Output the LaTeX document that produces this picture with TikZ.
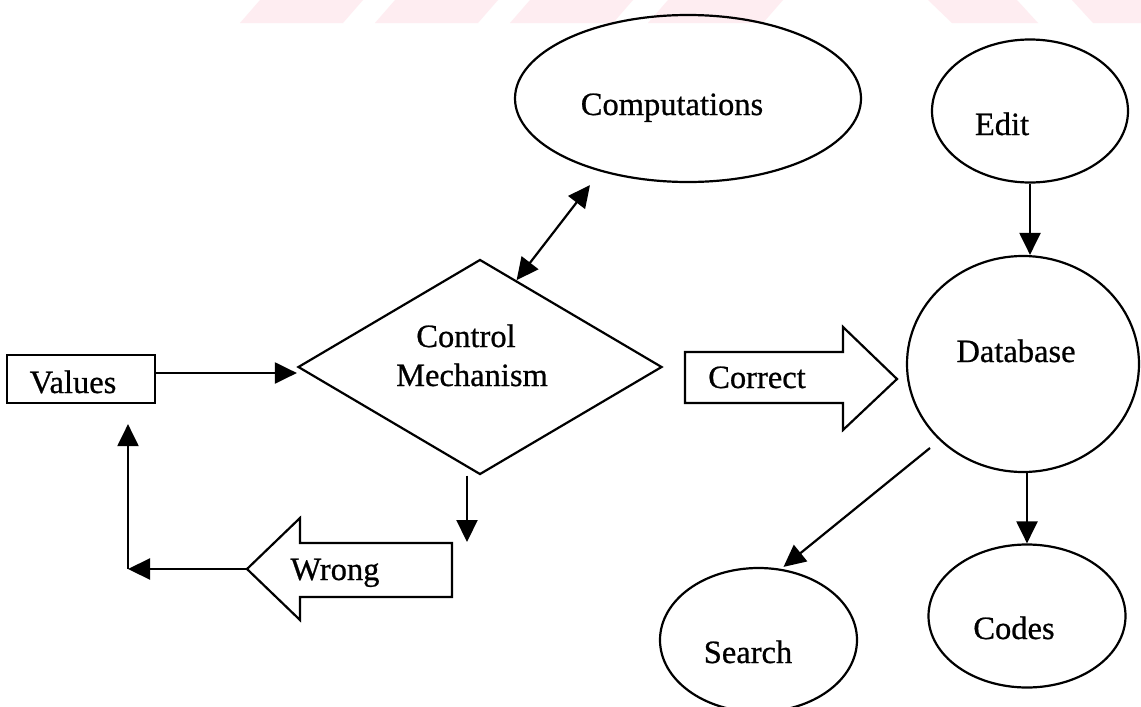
\documentclass[tikz,border=0pt]{standalone}
\usepackage{fontspec}
\setmainfont{Liberation Serif}[BoldFont={Liberation Serif},BoldFeatures={FakeBold=0.7}]
\usetikzlibrary{shapes.geometric,arrows.meta,calc}
\definecolor{markpink}{RGB}{254,237,241}
\begin{document}
\begin{tikzpicture}[x=1pt,y=-1pt,
  every node/.style={font=\fontsize{32.5}{38}\selectfont\bfseries},
  outline/.style={draw=black,line width=2.2pt,inner sep=0pt},
  oval/.style={outline,ellipse},
  label/.style={anchor=base,inner sep=0pt},
  conn/.style={line width=2.2pt,-{Triangle[length=22pt,width=21pt]}},
  dconn/.style={line width=2.2pt,{Triangle[length=22pt,width=21pt]}-{Triangle[length=22pt,width=21pt]}},
  blockarrow/.style={draw=black,line width=2.2pt,line join=miter,fill=white},
  band/.style={fill=markpink,draw=none}]
\clip (0,0) rectangle (1141,707);
\fill[white] (0,0) rectangle (1141,707);

% faint band along the top edge
\fill[band] (240,23) -- (343,23) -- (363,0) -- (260,0) -- cycle;
\fill[band] (375,23) -- (478,23) -- (498,0) -- (395,0) -- cycle;
\fill[band] (510,23) -- (613,23) -- (633,0) -- (530,0) -- cycle;
\fill[band] (648,23) -- (763,23) -- (783,0) -- (668,0) -- cycle;
\fill[band] (952,23) -- (1038,23) -- (1017,0) -- (928,0) -- cycle;
\fill[band] (1093,23) -- (1141,23) -- (1141,0) -- (1072,0) -- cycle;

% shapes
\node[outline,rectangle,minimum width=148pt,minimum height=48pt] (values) at (81,379) {};
\node[outline,diamond,minimum width=364pt,minimum height=215pt] (ctrl) at (480,367) {};
\node[oval,minimum width=346pt,minimum height=167pt] (comp) at (688,98.5) {};
\node[oval,minimum width=196pt,minimum height=143pt] (edit) at (1030,111) {};
\node[oval,minimum width=232pt,minimum height=216pt] (db) at (1023,364) {};
\node[oval,minimum width=197pt,minimum height=144pt] (search) at (758.5,640) {};
\node[oval,minimum width=197pt,minimum height=143pt] (codes) at (1027,616) {};

% block arrows
\draw[blockarrow] (685,352) -- (843,352) -- (843,327) -- (897,379) -- (843,430) -- (843,403) -- (685,403) -- cycle;
\draw[blockarrow] (452,543) -- (300,543) -- (300,518) -- (247,569) -- (300,620) -- (300,597) -- (452,597) -- cycle;
\coordinate (wrongtip) at (247,569);

% texts
\node[label] (values-t) at (73,393) {Values};
\node[label] (ctrl-t1) at (466,347) {Control};
\node[label] (ctrl-t2) at (472,386) {Mechanism};
\node[label] (comp-t) at (672,115) {Computations};
\node[label] (edit-t) at (1002,135) {Edit};
\node[label] (db-t) at (1016,362) {Database};
\node[label] (search-t) at (748,663) {Search};
\node[label] (codes-t) at (1014,639) {Codes};
\node[label] (correct-t) at (757,388) {Correct};
\node[label] (wrong-t) at (335,580) {Wrong};

% connectors
\coordinate (corner) at (128,569);
\coordinate (drop) at (467,542);
\draw[conn] ([yshift=6pt]values.east) -- ([yshift=6pt]values.east -| ctrl.west);
\draw[dconn] ($(ctrl.north)!0.2!(ctrl.east)$) -- ([xshift=-98pt,yshift=-2pt]comp.south);
\draw[conn] ([xshift=-13pt]ctrl.south) -- (drop);
\draw[conn] (wrongtip) -- (corner);
\draw[conn] (corner) -- ([yshift=-20pt]corner |- values.south);
\draw[conn] (edit.south) -- (edit.south |- db.north);
\draw[conn] ([xshift=-93pt,yshift=-84pt]db.center) -- ([xshift=25pt]search.north);
\draw[conn] (db.south -| codes.north) -- (codes.north);
\end{tikzpicture}
\end{document}
